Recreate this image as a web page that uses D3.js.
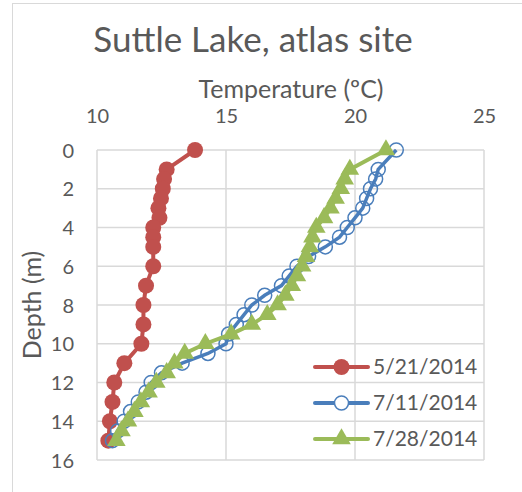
<!DOCTYPE html>
<html>
<head>
<meta charset="utf-8">
<script src="https://cdn.jsdelivr.net/npm/d3@7"></script>
<style>
  body { margin: 0; background: #fff; }
  text { font-family: Lato, Carlito, Calibri, sans-serif; fill: #595959; }
</style>
</head>
<body>
<div id="chart"></div>
<script>
// data
let seriesNames = ["5/21/2014", "7/11/2014", "7/28/2014"];

let depthMay = [0, 1, 1.5, 2, 2.5, 3, 3.5, 4, 4.5, 5, 6, 7, 8, 9, 10, 11, 12, 13, 14, 15];
let tempMay = [13.8, 12.7, 12.6, 12.55, 12.48, 12.38, 12.42, 12.18, 12.18, 12.18, 12.18, 11.9, 11.8, 11.8, 11.72, 11.06, 10.67, 10.6, 10.5, 10.44];

let depthJul11 = [0, 1, 1.5, 2, 2.5, 3, 3.5, 4, 4.5, 5, 5.5, 6, 6.5, 7, 7.5, 8, 8.5, 9, 9.5, 10, 10.5, 11, 11.5, 12, 12.5, 13, 13.5, 14, 14.5, 15];
let tempJul11 = [21.6, 20.9, 20.8, 20.6, 20.45, 20.3, 20.0, 19.7, 19.4, 18.85, 18.2, 17.75, 17.45, 17.15, 16.5, 16.0, 15.7, 15.4, 15.1, 15.0, 14.3, 13.3, 12.5, 12.1, 11.9, 11.6, 11.3, 11.05, 10.8, 10.6];

let depthJul28 = [0, 1, 1.5, 2, 2.5, 3, 3.5, 4, 4.5, 5, 5.5, 6, 6.5, 7, 7.5, 8, 8.5, 9, 9.5, 10, 10.5, 11, 11.5, 12, 12.5, 13, 13.5, 14, 14.5, 15];
let tempJul28 = [21.2, 19.8, 19.6, 19.45, 19.25, 19.05, 18.8, 18.5, 18.35, 18.25, 18.1, 17.95, 17.75, 17.55, 17.3, 17.0, 16.6, 16.0, 15.2, 14.2, 13.4, 13.0, 12.7, 12.3, 12.0, 11.7, 11.45, 11.2, 10.95, 10.75];

let xTicks = [10, 15, 20, 25];
let yTicks = [0, 2, 4, 6, 8, 10, 12, 14, 16];

// dimensions
let W = 522, H = 492;
let margin = {top: 150, left: 97},
    width = 387,
    height = 310;

let svg = d3.select("#chart").append("svg")
    .attr("width", W)
    .attr("height", H);

// outer chart border
svg.append("rect")
    .attr("x", 12.5).attr("y", 3.5)
    .attr("width", 620).attr("height", 620)
    .attr("fill", "none")
    .attr("stroke", "#d9d9d9")
    .attr("stroke-width", 1);

let g = svg.append("g")
    .attr("transform", "translate(" + margin.left + "," + margin.top + ")");

let x = d3.scaleLinear().domain([10, 25]).range([0, width]);
let y = d3.scaleLinear().domain([0, 16]).range([0, height]);

// gridlines
g.append("g")
    .selectAll("line")
    .data(yTicks)
    .join("line")
    .attr("x1", 0).attr("x2", width)
    .attr("y1", d => y(d)).attr("y2", d => y(d))
    .attr("stroke", "#d9d9d9")
    .attr("stroke-width", 1.5);

g.append("g")
    .selectAll("line")
    .data(xTicks)
    .join("line")
    .attr("x1", d => x(d)).attr("x2", d => x(d))
    .attr("y1", 0).attr("y2", height)
    .attr("stroke", "#d9d9d9")
    .attr("stroke-width", 1.5);

// axes (labels only, no domain or ticks)
let xAxis = g.append("g")
    .call(d3.axisTop(x).tickValues(xTicks).tickSize(0).tickPadding(0));
xAxis.select(".domain").remove();
xAxis.selectAll("text")
    .attr("y", -27)
    .attr("dy", null)
    .style("font-size", "20px")
    .style("font-family", null);

let yAxis = g.append("g")
    .call(d3.axisLeft(y).tickValues(yTicks).tickSize(0).tickPadding(23));
yAxis.select(".domain").remove();
yAxis.selectAll("text")
    .attr("dy", "0.35em")
    .style("font-size", "20px")
    .style("font-family", null);

// titles
svg.append("text")
    .attr("x", 253).attr("y", 52)
    .attr("text-anchor", "middle")
    .style("font-size", "35px")
    .text("Suttle Lake, atlas site");

svg.append("text")
    .attr("x", 291).attr("y", 98)
    .attr("text-anchor", "middle")
    .style("font-size", "25px")
    .text("Temperature (ºC)");

svg.append("text")
    .attr("transform", "translate(41,305) rotate(-90)")
    .attr("text-anchor", "middle")
    .style("font-size", "25px")
    .text("Depth (m)");

// series
let line = d3.line().x(d => x(d[0])).y(d => y(d[1]));
let triangle = d3.symbol().type(d3.symbolTriangle).size(150);

let may = d3.zip(tempMay, depthMay);
let jul11 = d3.zip(tempJul11, depthJul11);
let jul28 = d3.zip(tempJul28, depthJul28);

// 5/21
g.append("path").datum(may)
    .attr("d", line)
    .attr("fill", "none")
    .attr("stroke", "#c0504d")
    .attr("stroke-width", 4);
g.append("g").selectAll("circle")
    .data(may)
    .join("circle")
    .attr("cx", d => x(d[0])).attr("cy", d => y(d[1]))
    .attr("r", 8)
    .attr("fill", "#c0504d");

// 7/11
g.append("path").datum(jul11)
    .attr("d", line)
    .attr("fill", "none")
    .attr("stroke", "#4a7ebb")
    .attr("stroke-width", 3.5);
g.append("g").selectAll("circle")
    .data(jul11)
    .join("circle")
    .attr("cx", d => x(d[0])).attr("cy", d => y(d[1]))
    .attr("r", 7)
    .attr("fill", "none")
    .attr("stroke", "#4a7ebb")
    .attr("stroke-width", 1.5);

// 7/28
g.append("path").datum(jul28)
    .attr("d", line)
    .attr("fill", "none")
    .attr("stroke", "#9bbb59")
    .attr("stroke-width", 4);
g.append("g").selectAll("path")
    .data(jul28)
    .join("path")
    .attr("transform", d => "translate(" + x(d[0]) + "," + y(d[1]) + ")")
    .attr("d", triangle)
    .attr("fill", "#9bbb59");

// legend
let legendY = [367, 403, 439];
let legend = svg.append("g")
    .selectAll("g")
    .data(seriesNames)
    .join("g")
    .attr("transform", (d, i) => "translate(315," + legendY[i] + ")");

let colors = ["#c0504d", "#4a7ebb", "#9bbb59"];
legend.append("line")
    .attr("x1", 0).attr("x2", 53)
    .attr("stroke", (d, i) => colors[i])
    .attr("stroke-width", 4)
    .attr("stroke-linecap", "round");

legend.each(function(d, i) {
    let lg = d3.select(this);
    if (i === 0) {
        lg.append("circle").attr("cx", 26.5).attr("r", 8).attr("fill", colors[0]);
    } else if (i === 1) {
        lg.append("circle").attr("cx", 26.5).attr("r", 7)
            .attr("fill", "#fff").attr("stroke", colors[1]).attr("stroke-width", 1.5);
    } else {
        lg.append("path").attr("transform", "translate(26.5,0)")
            .attr("d", triangle).attr("fill", colors[2]);
    }
});

legend.append("text")
    .attr("x", 58)
    .attr("dy", "0.35em")
    .style("font-size", "21px")
    .text(d => d);
</script>
</body>
</html>
